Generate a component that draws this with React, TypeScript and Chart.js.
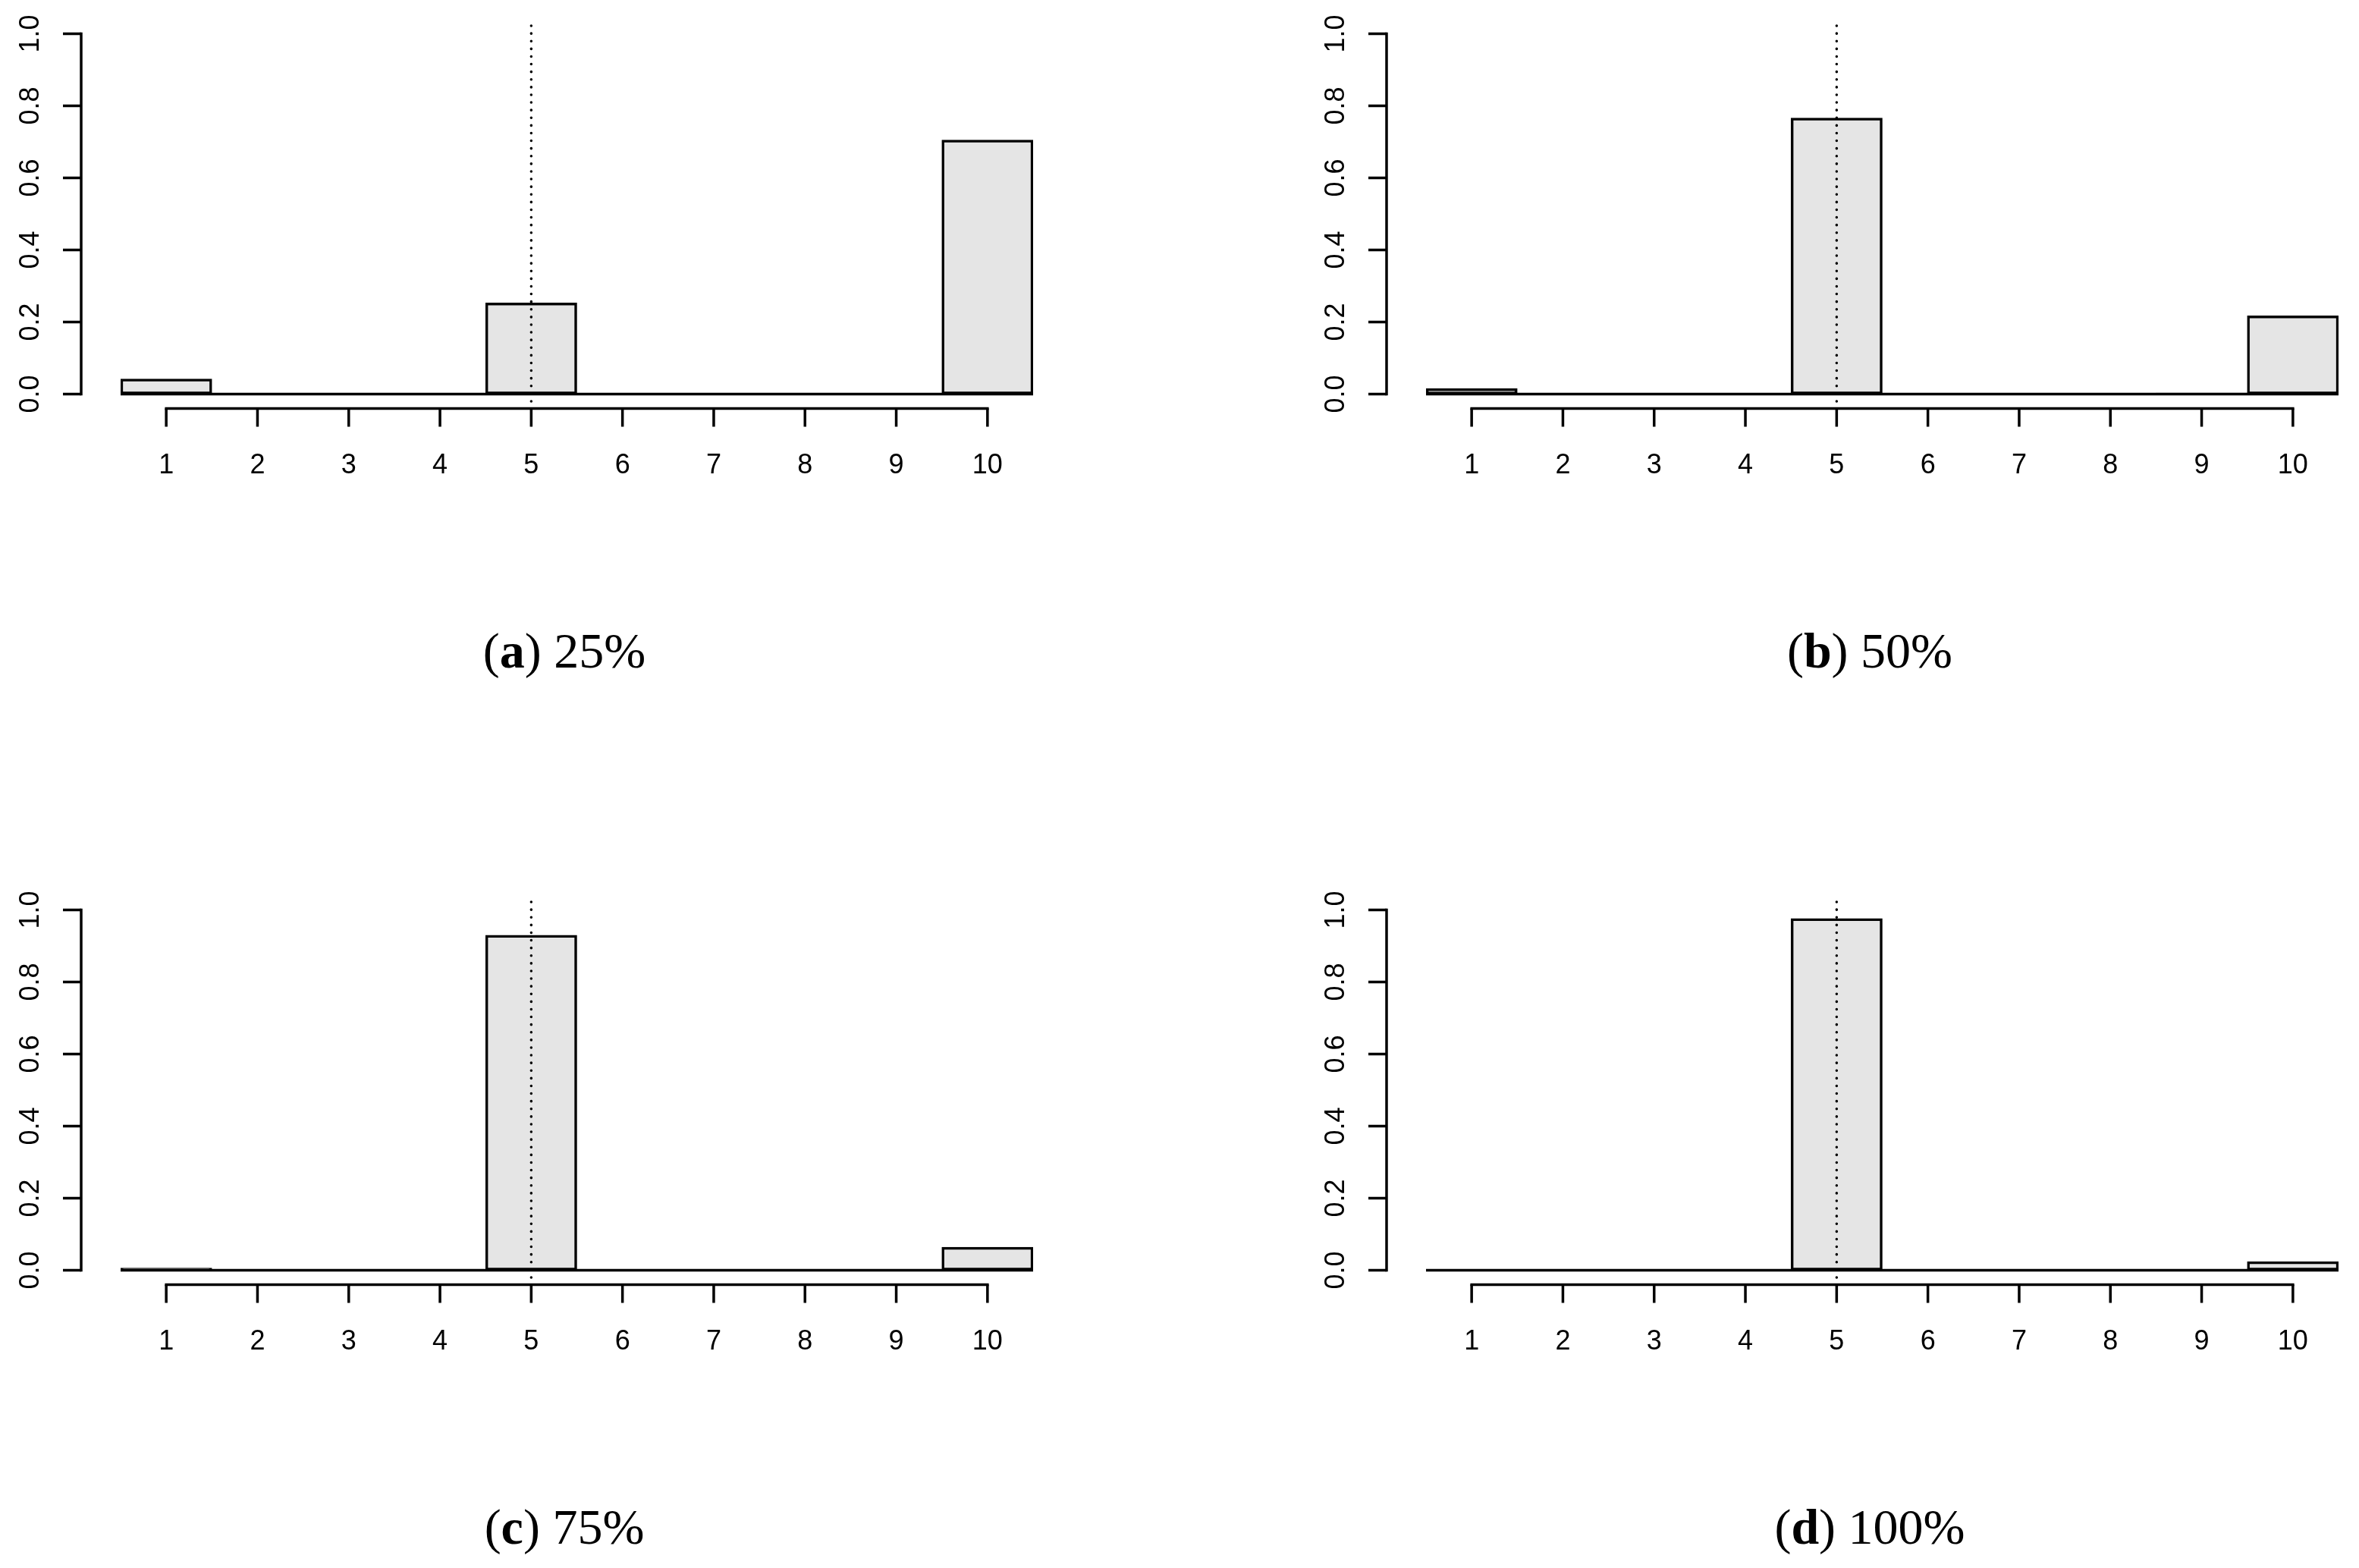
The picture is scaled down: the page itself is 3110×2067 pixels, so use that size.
import { useEffect, useRef } from 'react';
import Chart from 'chart.js/auto';

// bar categories and axis ticks
const categories = ['1', '2', '3', '4', '5', '6', '7', '8', '9', '10'];
const yTickValues = [0, 0.2, 0.4, 0.6, 0.8, 1.0];
const yTickLabels = ['0.0', '0.2', '0.4', '0.6', '0.8', '1.0'];

// share of each category, one array per panel
const share25 = [0.042, 0, 0, 0, 0.253, 0, 0, 0, 0, 0.705];
const share50 = [0.015, 0, 0, 0, 0.766, 0, 0, 0, 0.003, 0.217];
const share75 = [0.006, 0, 0, 0, 0.93, 0, 0, 0, 0.002, 0.064];
const share100 = [0, 0, 0, 0, 0.976, 0, 0, 0, 0, 0.024];

const captionLetters = ['a', 'b', 'c', 'd'];
const captionTexts = ['25%', '50%', '75%', '100%'];

// dotted reference line at the true category
const trueCategory = '5';
const refLineSpan = [-0.02, 1.022];

const LINE_W = 3.5;
const TICK_FONT = '36px "Liberation Sans", Arial, Helvetica, sans-serif';

// R-style detached axes, drawn from the chart's own scales
const rAxes = {
  id: 'rAxes',
  afterDatasetsDraw(chart: any) {
    const { ctx, chartArea } = chart;
    const x = chart.scales.x;
    const y = chart.scales.y;
    ctx.save();
    ctx.strokeStyle = '#000';
    ctx.fillStyle = '#000';
    ctx.lineWidth = LINE_W;

    // zero-height bars show up as a flat line
    const y0 = y.getPixelForValue(0);
    ctx.lineCap = 'butt';
    ctx.beginPath();
    ctx.moveTo(chartArea.left, y0);
    ctx.lineTo(chartArea.right, y0);
    ctx.stroke();

    ctx.lineCap = 'square';
    // y axis
    const ax = chartArea.left - 52;
    ctx.beginPath();
    ctx.moveTo(ax, y.getPixelForValue(yTickValues[0]));
    ctx.lineTo(ax, y.getPixelForValue(yTickValues[yTickValues.length - 1]));
    ctx.stroke();
    ctx.lineCap = 'butt';
    ctx.beginPath();
    yTickValues.forEach((v) => {
      const py = y.getPixelForValue(v);
      ctx.moveTo(ax - 24, py);
      ctx.lineTo(ax, py);
    });
    ctx.stroke();
    ctx.font = TICK_FONT;
    ctx.textAlign = 'center';
    ctx.textBaseline = 'alphabetic';
    yTickValues.forEach((v, i) => {
      ctx.save();
      ctx.translate(ax - 56, y.getPixelForValue(v));
      ctx.rotate(-Math.PI / 2);
      ctx.fillText(yTickLabels[i], 0, 0);
      ctx.restore();
    });

    // x axis
    const ay = chartArea.bottom;
    ctx.lineCap = 'square';
    ctx.beginPath();
    ctx.moveTo(x.getPixelForValue(0), ay);
    ctx.lineTo(x.getPixelForValue(categories.length - 1), ay);
    ctx.stroke();
    ctx.lineCap = 'butt';
    ctx.beginPath();
    categories.forEach((_, i) => {
      const px = x.getPixelForValue(i);
      ctx.moveTo(px, ay);
      ctx.lineTo(px, ay + 24);
    });
    ctx.stroke();
    categories.forEach((c, i) => {
      ctx.fillText(c, x.getPixelForValue(i), ay + 85);
    });
    ctx.restore();
  },
};

interface PanelProps {
  values: number[];
  left: number;
  top: number;
  padLeft: number;
  padRight: number;
  letter: string;
  caption: string;
  captionX: number;
}

const CANVAS_W = 1555;
const CANVAS_H = 700;

function Panel({ values, left, top, padLeft, padRight, letter, caption, captionX }: PanelProps) {
  const chartRef = useRef<HTMLCanvasElement>(null);

  useEffect(() => {
    if (!chartRef.current) return;
    const chart = new Chart(chartRef.current, {
      type: 'bar',
      data: {
        labels: categories,
        datasets: [
          {
            type: 'line',
            data: refLineSpan.map((v) => ({ x: trueCategory, y: v })),
            borderColor: '#000',
            borderWidth: LINE_W,
            borderDash: [0.1, 10],
            borderCapStyle: 'round',
            pointRadius: 0,
            order: 0,
          } as any,
          {
            type: 'bar',
            data: values,
            backgroundColor: '#e5e5e5',
            borderColor: '#000',
            borderWidth: LINE_W,
            borderSkipped: false,
            barPercentage: 1,
            categoryPercentage: 1,
            order: 1,
          },
        ],
      },
      options: {
        responsive: false,
        animation: false,
        devicePixelRatio: 1,
        layout: { padding: { left: padLeft, right: padRight, top: 25.5, bottom: 161.5 } },
        plugins: { legend: { display: false }, tooltip: { enabled: false } },
        scales: {
          x: { display: false, offset: true },
          y: { display: false, min: -0.04, max: 1.04 },
        },
      },
      plugins: [rAxes],
    });
    return () => chart.destroy();
  }, [values, padLeft, padRight]);

  return (
    <>
      <canvas
        ref={chartRef}
        width={CANVAS_W}
        height={CANVAS_H}
        style={{ position: 'absolute', left, top, width: CANVAS_W, height: CANVAS_H }}
      />
      <div
        style={{
          position: 'absolute',
          left: captionX - 300,
          top: top + 825,
          width: 600,
          textAlign: 'center',
          fontFamily: '"Liberation Serif", "Times New Roman", serif',
          fontSize: 66,
          lineHeight: '66px',
          color: '#000',
          whiteSpace: 'nowrap',
        }}
      >
        (<b>{letter}</b>) {caption}
      </div>
    </>
  );
}

export default function App() {
  const rowTop = [0, 0, 1155, 1155];
  const colLeft = [0, 1555, 0, 1555];
  const padL = [159, 325, 159, 325];
  const padR = [193, 27, 193, 27];
  const capX = [744, 2465, 744, 2465];
  const series = [share25, share50, share75, share100];

  return (
    <div
      style={{
        position: 'absolute',
        left: 0,
        top: 0,
        width: 3110,
        height: 2067,
        background: '#fff',
        overflow: 'hidden',
      }}
    >
      {series.map((vals, i) => (
        <Panel
          key={i}
          values={vals}
          left={colLeft[i]}
          top={rowTop[i]}
          padLeft={padL[i]}
          padRight={padR[i]}
          letter={captionLetters[i]}
          caption={captionTexts[i]}
          captionX={capX[i]}
        />
      ))}
    </div>
  );
}
